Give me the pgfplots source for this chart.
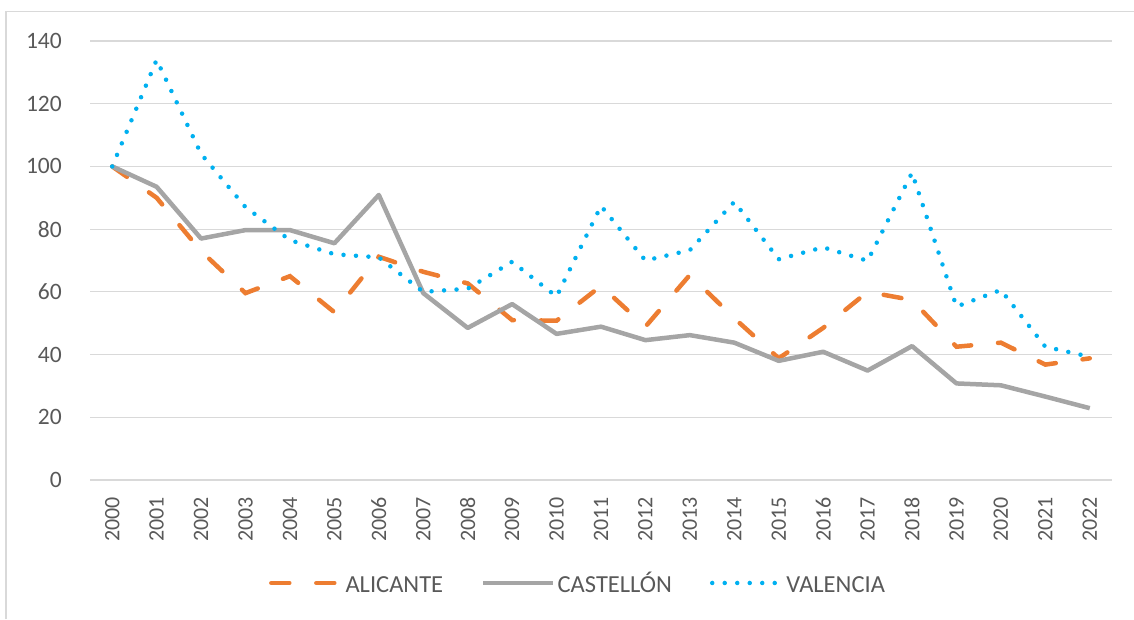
\documentclass[border=0pt]{standalone}
\usepackage{pgfplots}
\pgfplotsset{compat=1.18}
\usepackage{pgfplotstable}
\usepackage{fontspec}
\setmainfont{Carlito}
\definecolor{txt}{HTML}{595959}
\definecolor{gridc}{HTML}{D9D9D9}
\definecolor{cora}{HTML}{ED7D31}
\definecolor{corg}{HTML}{A5A5A5}
\definecolor{corb}{HTML}{00B0F0}

\pgfplotstableread{
x alicante castellon valencia
0  100   100   100
1  90    93.5  134
2  73    77    104
3  59.6  79.7  87
4  65    79.7  76.5
5  53.5  75.5  72
6  71.2  90.9  71
7  66.4  59.6  60
8  62.7  48.5  61
9  51    56.1  69.6
10 50.8  46.6  58.5
11 61.9  48.9  87.4
12 48.9  44.6  70
13 65.4  46.2  73.3
14 51.6  43.8  88.7
15 38.8  38    70.4
16 48.5  40.9  74.2
17 60    34.9  69.9
18 57.4  42.7  98
19 42.5  30.8  55.3
20 43.8  30.2  60.6
21 36.8  26.6  42.5
22 38.8  22.9  39.3
}\data

\begin{document}
\begin{tikzpicture}[x=1pt,y=1pt]
\useasboundingbox (0,0) rectangle (1134,619);
\draw[color=gridc, line width=1.2pt] (6,0) -- (6,607.5) -- (1134,607.5);
\begin{axis}[
  at={(90pt,139pt)}, anchor=south west,
  width=1022pt, height=439pt, scale only axis,
  xmin=-0.5, xmax=22.5, ymin=0, ymax=140,
  ytick={0,20,...,140},
  xtick={0,...,22},
  xticklabels={2000,2001,2002,2003,2004,2005,2006,2007,2008,2009,2010,2011,2012,2013,2014,2015,2016,2017,2018,2019,2020,2021,2022},
  ymajorgrids, grid style={color=gridc, line width=1.2pt},
  axis line style={draw=none}, major tick length=0pt,
  /pgf/number format/assume math mode=true,
  tick label style={text=txt},
  y tick label style={font=\fontsize{23.5}{27}\selectfont, inner sep=0pt, xshift=-28pt},
  x tick label style={font=\fontsize{22}{26}\selectfont, yshift=-17pt, rotate=90, anchor=east, inner sep=0pt},
  legend style={at={(0.4775,-0.2346)}, anchor=center, draw=none, fill=none,
    font=\fontsize{24.5}{28}\selectfont, text=txt, legend columns=3,
    /tikz/every even column/.append style={column sep=36pt}},
  legend image code/.code={\draw[#1] (0pt,0pt) -- (70pt,0pt);},
  clip=false,
]
\addplot[color=cora, line width=4.5pt, line cap=round, dash pattern=on 18pt off 27pt] table[x=x,y=alicante] {\data};
\addlegendentry{\vphantom{Ó}ALICANTE}
\addplot[color=corg, line width=4.5pt, line join=round] table[x=x,y=castellon] {\data};
\addlegendentry{\vphantom{Ó}CASTELLÓN}
\addplot[color=corb, line width=4.5pt, line cap=round, dash pattern=on 0pt off 12.5pt] table[x=x,y=valencia] {\data};
\addlegendentry{\vphantom{Ó}VALENCIA}
\end{axis}
\end{tikzpicture}
\end{document}
